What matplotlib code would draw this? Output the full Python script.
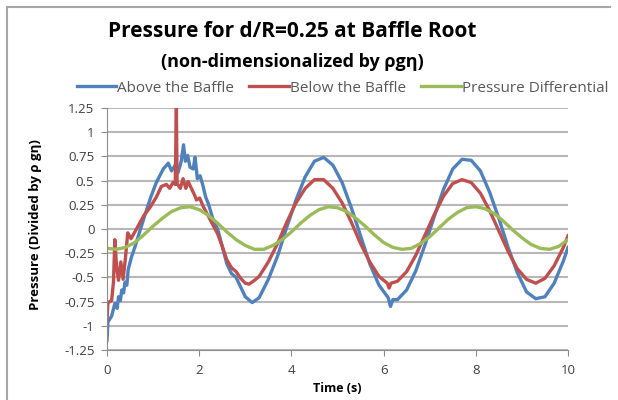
import matplotlib.pyplot as plt
from matplotlib.lines import Line2D

# time / value pairs
t_above = [0.00, 0.02, 0.10, 0.17, 0.22, 0.25, 0.29, 0.32, 0.36, 0.39, 0.43, 0.46,
           0.53, 0.61, 0.72, 0.86, 0.95, 1.07, 1.22, 1.33, 1.40, 1.48, 1.54, 1.61,
           1.66, 1.70, 1.75, 1.80, 1.87, 1.91, 1.96, 2.02, 2.08, 2.14, 2.20, 2.30,
           2.40, 2.50, 2.60, 2.70, 2.80, 2.90, 3.00, 3.15, 3.30, 3.50, 3.70, 3.90,
           4.10, 4.30, 4.50, 4.70, 4.90, 5.10, 5.30, 5.50, 5.70, 5.90, 6.10, 6.15,
           6.20, 6.30, 6.50, 6.70, 6.90, 7.10, 7.30, 7.50, 7.70, 7.90, 8.10, 8.30,
           8.50, 8.70, 8.90, 9.10, 9.30, 9.50, 9.70, 9.90, 10.00]
p_above = [-1.15, -0.96, -0.90, -0.77, -0.82, -0.70, -0.74, -0.63, -0.66, -0.55, -0.58, -0.42,
           -0.29, -0.18, -0.01, 0.20, 0.33, 0.48, 0.62, 0.68, 0.60, 0.66, 0.58, 0.70,
           0.87, 0.70, 0.76, 0.64, 0.62, 0.74, 0.52, 0.55, 0.45, 0.33, 0.26, 0.10,
           0.00, -0.18, -0.36, -0.46, -0.50, -0.60, -0.70, -0.76, -0.71, -0.52, -0.28, 0.02,
           0.30, 0.54, 0.70, 0.74, 0.66, 0.48, 0.22, -0.07, -0.36, -0.58, -0.71, -0.80,
           -0.73, -0.73, -0.63, -0.43, -0.16, 0.13, 0.41, 0.62, 0.72, 0.71, 0.60, 0.38,
           0.11, -0.19, -0.45, -0.65, -0.72, -0.70, -0.56, -0.33, -0.19]

t_below = [0.00, 0.02, 0.10, 0.14, 0.17, 0.21, 0.25, 0.30, 0.35, 0.40, 0.45, 0.52,
           0.64, 0.80, 0.93, 1.07, 1.18, 1.29, 1.36, 1.43, 1.48, 1.505, 1.52, 1.59,
           1.65, 1.71, 1.76, 1.83, 1.90, 1.94, 2.01, 2.09, 2.19, 2.30, 2.40, 2.50,
           2.60, 2.70, 2.80, 2.90, 3.00, 3.08, 3.20, 3.30, 3.50, 3.70, 3.90, 4.10,
           4.30, 4.50, 4.70, 4.90, 5.10, 5.30, 5.50, 5.70, 5.90, 6.08, 6.12, 6.16,
           6.30, 6.50, 6.70, 6.90, 7.10, 7.30, 7.50, 7.70, 7.90, 8.10, 8.30, 8.50,
           8.70, 8.90, 9.10, 9.30, 9.50, 9.70, 9.90, 10.00]
p_below = [-0.95, -0.76, -0.74, -0.55, -0.11, -0.40, -0.53, -0.34, -0.52, -0.30, -0.04, -0.10,
           0.00, 0.14, 0.22, 0.33, 0.44, 0.46, 0.42, 0.48, 0.46, 1.26, 0.47, 0.42,
           0.52, 0.42, 0.49, 0.42, 0.35, 0.30, 0.32, 0.23, 0.14, 0.04, -0.05, -0.18,
           -0.32, -0.40, -0.44, -0.51, -0.56, -0.57, -0.53, -0.49, -0.34, -0.15, 0.07, 0.27,
           0.42, 0.51, 0.51, 0.42, 0.27, 0.07, -0.15, -0.34, -0.49, -0.56, -0.61, -0.56,
           -0.54, -0.44, -0.27, -0.06, 0.15, 0.34, 0.47, 0.51, 0.48, 0.37, 0.19, -0.02,
           -0.23, -0.41, -0.52, -0.56, -0.51, -0.38, -0.19, -0.07]

t_diff = [0.0, 0.2, 0.4, 0.6, 0.8, 1.0, 1.2, 1.4, 1.6, 1.8, 2.0, 2.2, 2.4, 2.6, 2.8,
          3.0, 3.2, 3.4, 3.6, 3.8, 4.0, 4.2, 4.4, 4.6, 4.8, 5.0, 5.2, 5.4, 5.6, 5.8,
          6.0, 6.2, 6.4, 6.6, 6.8, 7.0, 7.2, 7.4, 7.6, 7.8, 8.0, 8.2, 8.4, 8.6, 8.8,
          9.0, 9.2, 9.4, 9.6, 9.8, 10.0]
p_diff = [-0.20, -0.21, -0.19, -0.14, -0.06, 0.03, 0.11, 0.18, 0.22, 0.23, 0.20, 0.14, 0.06, -0.03, -0.11,
          -0.17, -0.21, -0.21, -0.17, -0.11, -0.03, 0.06, 0.14, 0.20, 0.23, 0.22, 0.18, 0.11, 0.03, -0.06,
          -0.14, -0.19, -0.21, -0.20, -0.15, -0.08, 0.01, 0.10, 0.17, 0.22, 0.23, 0.21, 0.16, 0.08, -0.01,
          -0.09, -0.16, -0.20, -0.21, -0.18, -0.11]

y_ticks = [-1.25, -1, -0.75, -0.5, -0.25, 0, 0.25, 0.5, 0.75, 1, 1.25]
y_labels = ['-1.25', '-1', '-0.75', '-0.5', '-0.25', '0', '0.25', '0.5', '0.75', '1', '1.25']
x_ticks = [0, 2, 4, 6, 8, 10]

plt.rcParams['font.family'] = ['Open Sans', 'DejaVu Sans']

fig = plt.figure(figsize=(6.18, 4.0), dpi=100)
ax = fig.add_axes([107 / 618, 1 - 350 / 400, 461 / 618, 242 / 400])

ax.plot(t_above, p_above, color='#4F81BD', lw=2.4, label='Above the Baffle')
ax.plot(t_below, p_below, color='#C0504D', lw=2.4, label='Below the Baffle')
ax.plot(t_diff, p_diff, color='#9BBB59', lw=2.4, label='Pressure Differential')

ax.set_xlim(0, 10)
ax.set_ylim(-1.25, 1.25)
ax.set_xticks(x_ticks)
ax.set_yticks(y_ticks)
ax.set_yticklabels(y_labels)
ax.yaxis.grid(True, color='#B8B8B8', lw=1.5)
ax.set_axisbelow(True)
for s in ['top', 'right']:
    ax.spines[s].set_visible(False)
for s in ['left', 'bottom']:
    ax.spines[s].set_color('#8C8C8C')
ax.tick_params(axis='both', color='#8C8C8C', length=4, labelsize=9.5, labelcolor='#404040')
ax.tick_params(axis='y', pad=5)
ax.tick_params(axis='x', pad=6)

ax.set_xlabel('Time (s)', fontsize=9, fontweight='bold', labelpad=4)
ax.set_ylabel('Pressure (Divided by ρ gη)', fontsize=9.5, fontweight='bold')
ax.yaxis.set_label_coords(-0.142, 0.52)

fig.text(0.473, 0.922, 'Pressure for d/R=0.25 at Baffle Root', ha='center', va='center',
         fontsize=15, fontweight='bold')
fig.text(0.473, 0.845, '(non-dimensionalized by ρgη)', ha='center', va='center',
         fontsize=13, fontweight='bold')

leg = fig.legend(loc='center', bbox_to_anchor=(0.554, 0.78), ncol=3, frameon=False,
                 fontsize=11, handlelength=2.6, handletextpad=0.05, columnspacing=1.0)
for txt in leg.get_texts():
    txt.set_color('#595959')

# chart frame (top and left edges visible in the reference)
fig.add_artist(Line2D([7 / 618, 610 / 618], [1 - 7 / 400, 1 - 7 / 400], color='#A6A6A6', lw=1.5))
fig.add_artist(Line2D([7 / 618, 7 / 618], [0, 1 - 7 / 400], color='#A6A6A6', lw=1.5))

fig.savefig('out.png', dpi=100)
